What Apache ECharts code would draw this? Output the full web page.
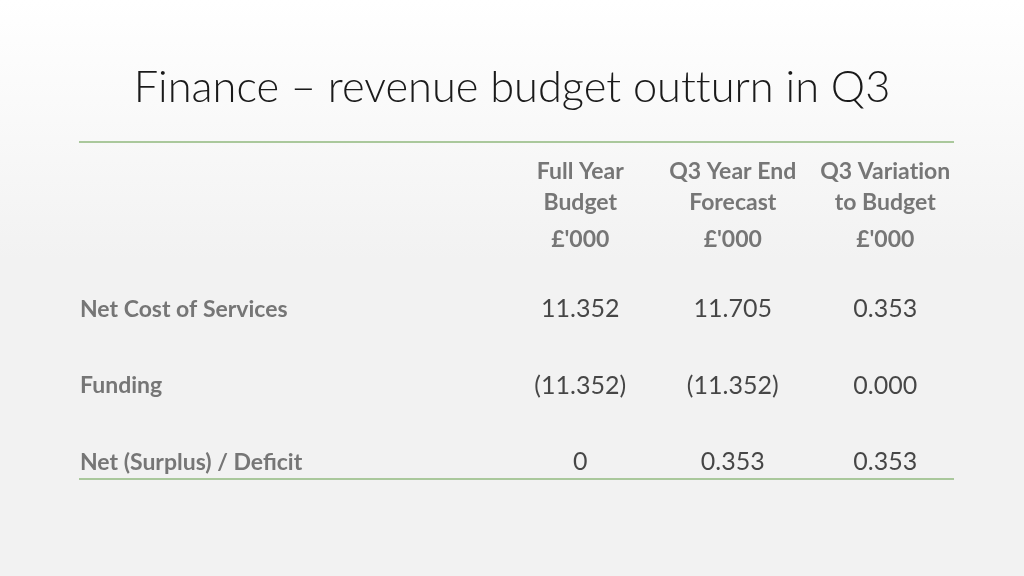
<!DOCTYPE html>
<html><head><meta charset="utf-8">
<script src="https://cdn.jsdelivr.net/npm/echarts@6/dist/echarts.min.js"></script>
<style>html,body{margin:0;padding:0;background:#fff;}#c{width:1024px;height:576px;}</style>
</head><body><div id="c"></div>
<script>
const titleText = 'Finance \u2013 revenue budget outturn in Q3';
const columnHeaders = ['Full Year\nBudget\n\u00a3\'000', 'Q3 Year End\nForecast\n\u00a3\'000', 'Q3 Variation\nto Budget\n\u00a3\'000'];
const rowLabels = ['Net Cost of Services', 'Funding', 'Net (Surplus) / Deficit'];
const fullYearBudget = ['11.352', '-11.352', '0'];
const q3YearEndForecast = ['11.705', '-11.352', '0.353'];
const q3VariationToBudget = ['0.353', '0.000', '0.353'];

const seriesValues = [fullYearBudget, q3YearEndForecast, q3VariationToBudget];
const FONT = 'Lato, "Open Sans", sans-serif';

function fmt(s) {
  return s.charAt(0) === '-' ? '(' + s.slice(1) + ')' : s;
}
// avoid the "ti" / "tt" ligatures of Lato
function noLig(s) { return s.replace(/t(?=[it])/g, 't\u200C'); }

const chart = echarts.init(document.getElementById('c'), null, {renderer: 'canvas'});
chart.setOption({
  animation: false,
  backgroundColor: {
    type: 'linear', x: 0, y: 0, x2: 0, y2: 1,
    colorStops: [{offset: 0, color: '#ffffff'}, {offset: 0.45, color: '#f2f2f2'}, {offset: 1, color: '#f2f2f2'}]
  },
  title: {
    text: noLig(titleText),
    left: 'center',
    top: 61,
    textStyle: {fontFamily: FONT, fontWeight: 300, fontSize: 43.4, color: '#1a1a1a'}
  },
  graphic: [
    {type: 'line', shape: {x1: 79, y1: 142, x2: 954, y2: 142}, style: {stroke: '#aac89c', lineWidth: 2}},
    {type: 'line', shape: {x1: 79, y1: 479, x2: 954, y2: 479}, style: {stroke: '#aac89c', lineWidth: 2}}
  ],
  grid: {left: 504, width: 457.5, top: 271, height: 229.5, containLabel: false},
  xAxis: {
    type: 'category',
    position: 'top',
    data: columnHeaders,
    axisLine: {show: false}, axisTick: {show: false}, splitLine: {show: false},
    axisLabel: {
      margin: 10,
      interval: 0,
      formatter: function (v) {
        const p = noLig(v).split('\n');
        return '{h|' + p[0] + '}\n{h|' + p[1] + '}\n{u|' + p[2] + '}';
      },
      rich: {
        h: {fontFamily: FONT, fontWeight: 'bold', fontSize: 23, color: '#767676', lineHeight: 31, align: 'center'},
        u: {fontFamily: FONT, fontWeight: 'bold', fontSize: 23, color: '#767676', lineHeight: 43, align: 'center'}
      }
    }
  },
  yAxis: {
    type: 'category',
    inverse: true,
    data: rowLabels,
    axisLine: {show: false}, axisTick: {show: false}, splitLine: {show: false},
    axisLabel: {
      margin: 424,
      align: 'left',
      fontFamily: FONT, fontWeight: 'bold', fontSize: 23, color: '#767676',
      padding: [5, 0, 0, 0]
    }
  },
  series: seriesValues.map(function (vals, i) {
    return {
      type: 'scatter',
      symbolSize: 1,
      itemStyle: {color: 'rgba(0,0,0,0)'},
      data: vals.map(function (v, j) { return [i, j, v]; }),
      label: {
        show: true,
        position: 'inside',
        fontFamily: FONT, fontSize: 25, color: '#1a1a1a',
        formatter: function (p) { return fmt(p.value[2]); }
      }
    };
  })
});
</script>
</body></html>
